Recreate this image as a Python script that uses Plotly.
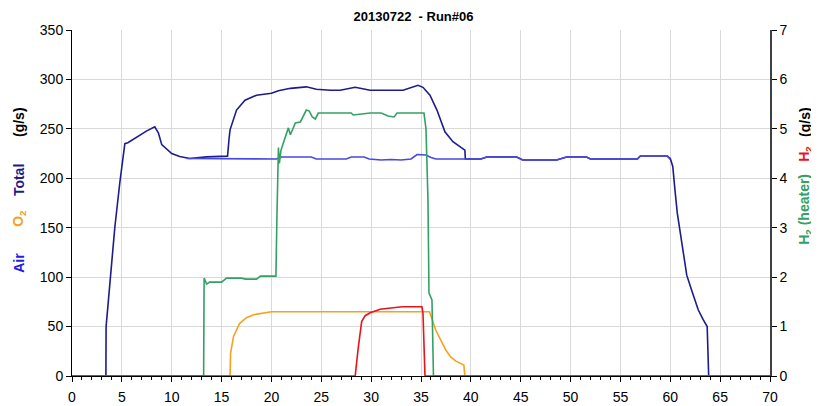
import plotly.graph_objects as go

total_t = [0, 3.4, 3.42, 3.8, 4.3, 4.8, 5.3, 5.6, 6.5, 7.5, 8.3, 8.66, 9.0, 9.5, 10.0, 10.8, 11.8, 13.5, 15.6,
           15.75, 15.85, 16.5, 17.35, 18.5, 20.0, 20.7, 21.9, 23.5, 24.5, 25.9, 26.9, 28.4, 29.9, 33.2, 34.7,
           35.2, 35.9, 36.6, 37.4, 38.2, 39.2, 39.4, 39.45, 41.0, 41.6, 44.6, 45.2, 48.6, 49.6, 51.6, 52.0,
           56.7, 57.0, 59.7, 60.0, 60.25, 60.45, 60.7, 61.2, 61.65, 62.2, 62.8, 63.3, 63.7, 63.85, 70]
total_v = [0, 0, 50, 94, 151, 196, 235, 236, 242, 248, 252, 246, 234, 229, 225, 222, 220, 221.7, 222.4,
           240, 249, 269, 279, 284, 286, 288.5, 291, 292.5, 290, 289, 289, 292, 289, 289, 294,
           292, 284, 269, 247, 237, 230, 228.5, 219.5, 219.5, 221.5, 221.5, 218.5, 218.5, 221.5, 221.5, 219.5,
           219.5, 222.5, 222.5, 220, 212, 190, 165, 132, 102, 85, 67, 57, 50, 0, 0]

air_t = [11.5, 15.7, 20.5, 21.0, 24.0, 24.5, 27.5, 28.0, 29.3, 29.8, 31.0, 32.0, 33.0, 34.0, 34.6, 35.5,
         36.0, 36.5, 41.0, 41.6, 44.6, 45.2, 48.6, 49.6, 51.6, 52.0, 56.7, 57.0, 59.7, 60.0]
air_v = [220, 219.5, 219.5, 221.5, 221.5, 219.5, 219.5, 221.5, 221.5, 219.5, 218.5, 219, 218.5, 219.5, 224, 223.5,
         221, 219.5, 219.5, 221.5, 221.5, 218.5, 218.5, 221.5, 221.5, 219.5, 219.5, 222.5, 222.5, 219]

o2_t = [0, 15.85, 15.9, 16.2, 16.8, 17.5, 18.2, 19.5, 20.0, 35.85, 36.2, 36.5, 37.0, 37.5, 38.0, 38.5, 39.0, 39.3, 39.4, 70]
o2_v = [0, 0, 23, 40, 53, 59, 62, 64.5, 65, 65, 55, 46, 36, 26, 19, 15, 12.5, 11, 0, 0]

h2_heater_t = [0, 13.2, 13.25, 13.5, 13.8, 15.0, 15.5, 16.0, 17.0, 17.4, 18.5, 18.9, 19.5, 20.45, 20.55, 20.7,
               20.8, 20.95, 21.2, 21.7, 21.9, 22.4, 22.9, 23.5, 23.8, 24.1, 24.4, 24.7, 25.5, 28.0, 28.2, 29.9,
               31.0, 31.7, 32.3, 32.6, 34.0, 35.3, 35.5, 35.7, 35.8, 36.1, 36.25, 70]
h2_heater_v = [0, 0, 1.98, 1.86, 1.9, 1.9, 1.98, 1.98, 1.98, 1.96, 1.96, 2.02, 2.02, 2.02, 3.2, 4.62,
               4.3, 4.56, 4.72, 5.02, 4.88, 5.12, 5.14, 5.38, 5.36, 5.24, 5.2, 5.32, 5.32, 5.32, 5.28, 5.32,
               5.32, 5.26, 5.24, 5.32, 5.32, 5.32, 5.0, 3.56, 1.68, 1.54, 0, 0]

h2_t = [0, 28.4, 28.7, 29.05, 29.4, 29.9, 30.9, 32.0, 33.1, 34.0, 34.9, 35.1, 35.2, 35.4, 70]
h2_v = [0, 0, 0.56, 1.1, 1.22, 1.28, 1.35, 1.37, 1.4, 1.4, 1.41, 1.4, 1.27, 0, 0]

FONT = "Liberation Sans, Arial, sans-serif"
NAVY = "#1c1c8c"
BLUE = "#4848e4"
ORANGE = "#f5a21e"
GREEN = "#34a064"
RED = "#e8141c"

fig = go.Figure()
fig.add_trace(go.Scatter(x=total_t, y=total_v, mode="lines", name="Total", line=dict(color=NAVY, width=1.6)))
fig.add_trace(go.Scatter(x=air_t, y=air_v, mode="lines", name="Air", line=dict(color=BLUE, width=1.6)))
fig.add_trace(go.Scatter(x=o2_t, y=o2_v, mode="lines", name="O2", line=dict(color=ORANGE, width=1.6)))
fig.add_trace(go.Scatter(x=h2_heater_t, y=h2_heater_v, mode="lines", name="H2 (heater)",
                         line=dict(color=GREEN, width=1.6), yaxis="y2"))
fig.add_trace(go.Scatter(x=h2_t, y=h2_v, mode="lines", name="H2", line=dict(color=RED, width=1.6), yaxis="y2"))

tick_font = dict(family=FONT, size=14, color="black")


def side_label(text, color, x, y):
    fig.add_annotation(text=f"<b>{text}</b>", x=x, y=y, xref="paper", yref="paper", textangle=-90,
                       xanchor="center", yanchor="middle", showarrow=False,
                       font=dict(family=FONT, size=14, color=color))


side_label("Air", "#2020e0", -0.076, 0.327)
side_label("O<sub>2</sub>", ORANGE, -0.076, 0.457)
side_label("Total", NAVY, -0.076, 0.566)
side_label("(g/s)", "black", -0.076, 0.734)
side_label("H<sub>2</sub> (heater)", GREEN, 1.050, 0.483)
side_label("H<sub>2</sub>", RED, 1.050, 0.642)
side_label("(g/s)", "black", 1.050, 0.734)

# the page body adds an 8px margin, so the figure is sized to fit the window
fig.update_layout(
    width=811,
    height=398,
    margin=dict(l=64, r=49, t=22, b=30),
    paper_bgcolor="white",
    plot_bgcolor="white",
    showlegend=False,
    font=dict(family=FONT, size=14, color="black"),
    title=dict(text="<b>20130722  - Run#06</b>", x=0.5, xanchor="center", y=0.98, yanchor="middle",
               font=dict(family=FONT, size=13, color="black")),
    xaxis=dict(range=[0, 70], dtick=5, showgrid=True, gridcolor="#d9d9d9", gridwidth=1,
               showline=True, linecolor="black", linewidth=1, ticks="outside", ticklen=5, tickcolor="black",
               minor=dict(dtick=1, ticks="outside", ticklen=3, tickcolor="black", showgrid=False),
               zeroline=False, ticklabelstandoff=3, tickfont=tick_font, automargin=False),
    yaxis=dict(range=[0, 350], dtick=50, showgrid=True, gridcolor="#d9d9d9", gridwidth=1,
               showline=True, linecolor="black", linewidth=1, ticks="outside", ticklen=5, tickcolor="black",
               zeroline=False, tickfont=tick_font, automargin=False),
    yaxis2=dict(range=[0, 7], dtick=1, overlaying="y", side="right", showgrid=False,
                showline=True, linecolor="#404040", linewidth=1.5, ticks="outside", ticklen=5, tickcolor="black",
                zeroline=False, tickfont=tick_font, automargin=False),
)

fig.write_html("out.html")
